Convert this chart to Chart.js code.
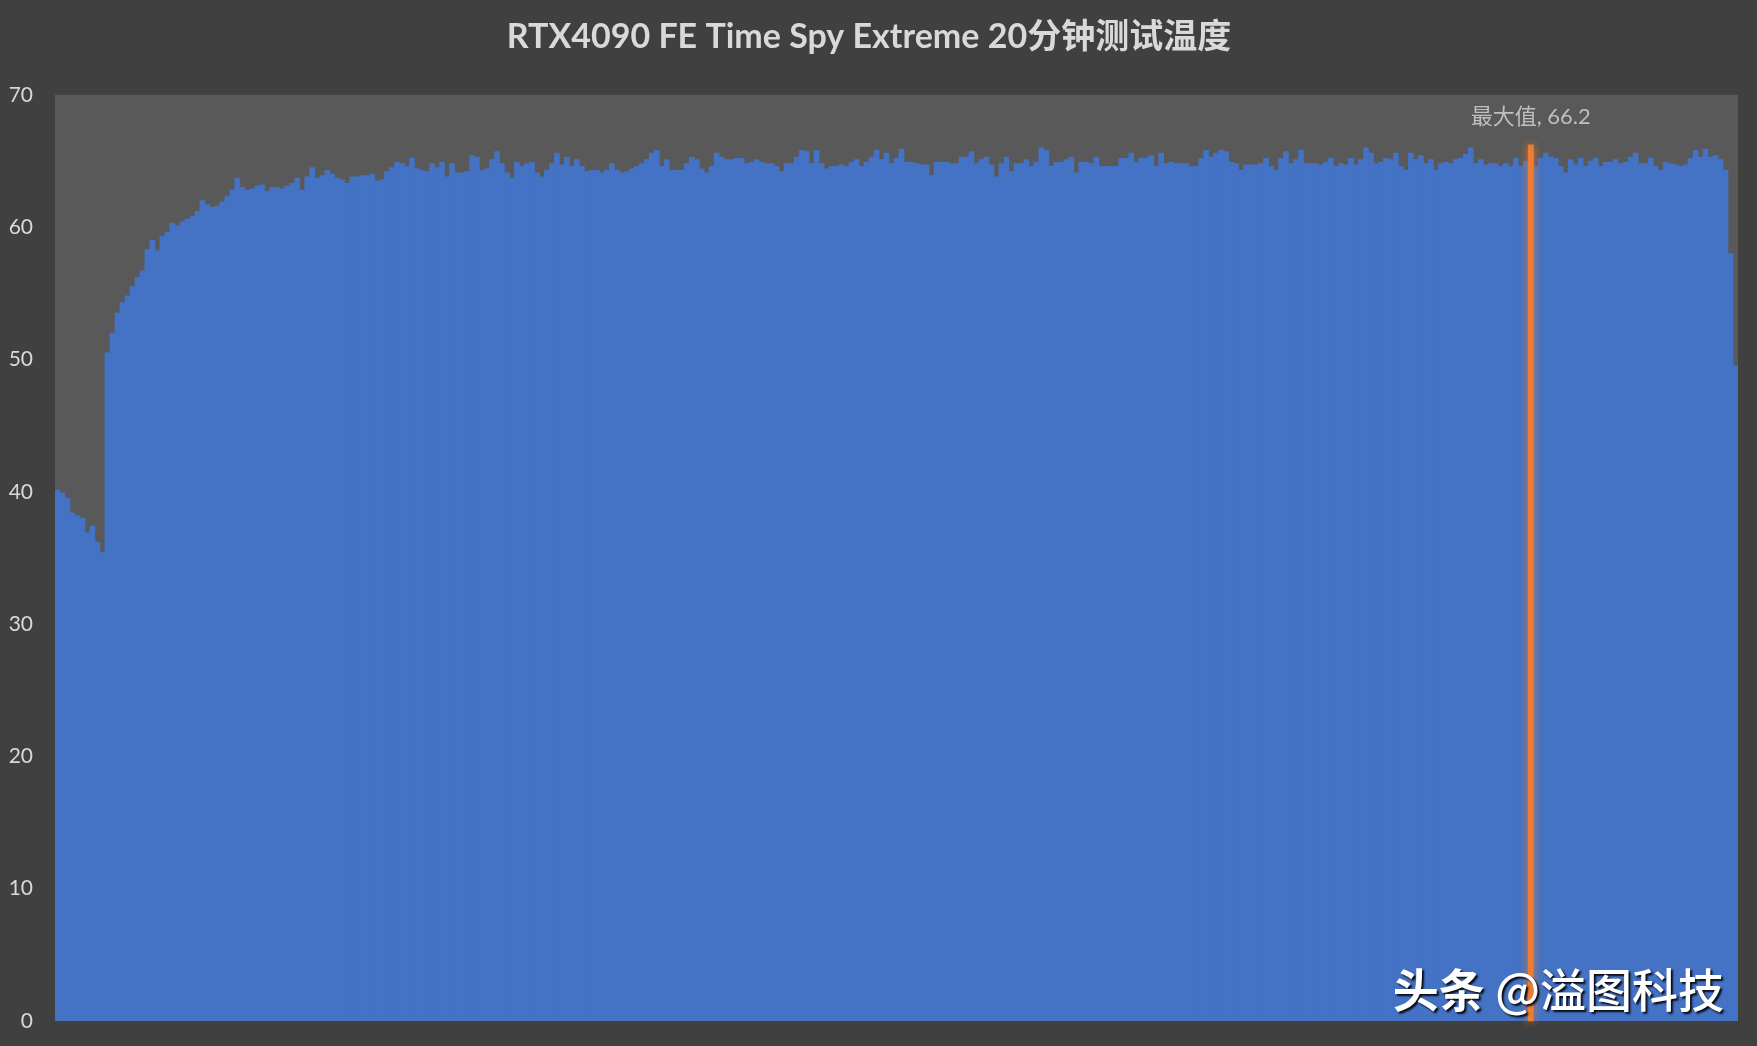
<!DOCTYPE html>
<html>
<head>
<meta charset="utf-8">
<script src="https://cdn.jsdelivr.net/npm/chart.js@4"></script>
<style>
  html, body { margin: 0; padding: 0; background: #404040; }
  #wrap { width: 1757px; height: 1046px; position: relative; }
</style>
</head>
<body>
<div id="wrap"><canvas id="c"></canvas></div>
<script>
// ---- Data (GPU temperature, °C) ----
const chartTitle = 'RTX4090 FE Time Spy Extreme 20分钟测试温度';
const maxLabelPrefix = '最大值';
const watermarkBold = '头条';
const watermarkRest = '@溢图科技';
const yTicks = [0, 10, 20, 30, 40, 50, 60, 70];

const tempsWarmup = [
  40.1, 39.9, 39.5, 38.4, 38.2, 38.0, 36.9, 37.4, 36.2, 35.4,
  50.5, 52.0, 53.5, 54.3, 54.8, 55.5, 56.2, 56.7, 58.3, 59.0,
  58.2, 59.3, 59.6, 60.3, 60.1, 60.4, 60.6, 60.8, 61.2, 62.0,
  61.7, 61.5, 61.6, 61.9, 62.3, 62.8, 63.7, 63.0, 62.8, 62.9,
  63.1, 63.2, 62.7, 63.0, 63.0, 62.9, 63.1, 63.3, 63.7, 62.8,
  63.8, 64.5, 63.7, 63.9, 64.3, 64.0, 63.7, 63.6, 63.3, 63.8,
  63.8, 63.9, 63.9, 64.0, 63.5, 63.6, 64.2, 64.5, 64.9, 64.8
];
const tempsSteady = [
  64.6, 65.2, 64.4, 64.3, 64.2, 64.8, 64.5, 64.9, 63.8, 64.8,
  64.1, 64.1, 64.2, 65.4, 65.3, 64.3, 64.4, 65.1, 65.7, 64.8,
  64.1, 63.7, 64.9, 64.6, 64.8, 64.9, 64.1, 63.8, 64.3, 64.8,
  65.6, 64.7, 65.3, 64.6, 65.1, 64.6, 64.2, 64.3, 64.3, 64.1,
  64.3, 64.8, 64.3, 64.1, 64.2, 64.4, 64.6, 64.8, 65.1, 65.6,
  65.8, 64.6, 65.1, 64.3, 64.3, 64.3, 64.8, 65.3, 65.1, 64.4,
  64.1, 64.6, 65.6, 65.3, 65.1, 65.1, 65.2, 65.2, 64.8, 64.9,
  65.1, 64.9, 64.8, 64.8, 64.6, 64.2, 64.8, 64.8, 65.3, 65.8,
  65.7, 64.8, 65.8, 64.8, 64.4, 64.6, 64.6, 64.7, 64.6, 64.9,
  65.1, 64.6, 64.9, 65.3, 65.8, 65.1, 65.6, 64.8, 65.2, 65.9,
  64.9, 64.9, 64.8, 64.7, 64.7, 63.9, 64.9, 64.9, 64.9, 64.8,
  64.8, 65.3, 65.3, 65.7, 64.8, 65.1, 65.3, 64.7, 63.8, 64.8,
  65.3, 64.2, 64.8, 64.8, 65.1, 64.6, 64.9, 66.0, 65.8, 64.6,
  64.9, 64.9, 65.1, 65.3, 64.1, 64.9, 64.9, 64.8, 65.3, 64.6,
  64.6, 64.6, 64.6, 65.2, 65.2, 65.6, 64.9, 65.2, 65.2, 65.4,
  64.6, 65.6, 64.8, 64.9, 64.8, 64.8, 64.8, 64.6, 64.6, 65.2,
  65.8, 65.3, 65.6, 65.8, 65.7, 64.9, 64.8, 64.3, 64.7, 64.7,
  64.7, 64.8, 65.2, 64.6, 64.3, 65.2, 65.7, 64.8, 65.1, 65.8,
  64.8, 64.8, 64.8, 64.7, 64.9, 65.2, 64.6, 64.8, 64.7, 65.2,
  64.7, 65.1, 66.0, 65.6, 64.8, 64.9, 65.2, 65.1, 65.6, 64.6,
  64.3, 65.6, 65.1, 65.4, 64.8, 65.1, 64.3, 64.8, 64.9, 64.8,
  65.1, 65.2, 65.5, 66.0, 64.8, 65.1, 64.7, 64.8, 64.8, 64.6,
  64.8, 64.6, 65.2, 64.6, 65.0, 66.2, 64.6, 65.2, 65.6, 65.3,
  65.2, 64.6, 64.1, 65.1, 64.7, 65.2, 64.6, 65.0, 65.2, 64.6,
  64.9, 64.9, 65.1, 64.8, 64.9, 65.3, 65.6, 64.8, 64.8, 65.2,
  64.6, 64.3, 64.9, 64.8, 64.7, 64.6, 64.7, 65.2, 65.8, 65.3,
  65.9, 65.3, 65.4, 65.1, 64.3
];
const tempsCooldown = [58.0, 49.5];

const temps = tempsWarmup.concat(tempsSteady, tempsCooldown);
const samples = temps.map((_, i) => String(i + 1));

const maxValue = Math.max(...temps);
const maxIndex = temps.indexOf(maxValue);

const BLUE = '#4472C4';
const ORANGE = '#ED7D31';
const barColors = temps.map((v, i) => i === maxIndex ? ORANGE : BLUE);

const bgPlugin = {
  id: 'bg',
  beforeDraw(chart) {
    const { ctx, chartArea: a } = chart;
    ctx.save();
    ctx.fillStyle = '#404040';
    ctx.fillRect(0, 0, chart.width, chart.height);
    ctx.fillStyle = '#595959';
    ctx.fillRect(a.left, a.top, a.right - a.left, a.bottom - a.top);
    ctx.restore();
  }
};

const maxPlugin = {
  id: 'maxMark',
  afterDatasetsDraw(chart) {
    const { ctx } = chart;
    const el = chart.getDatasetMeta(0).data[maxIndex];
    if (!el) return;
    ctx.save();
    ctx.shadowColor = 'rgba(237,125,49,0.85)';
    ctx.shadowBlur = 8;
    el.draw(ctx);
    ctx.restore();
    ctx.save();
    ctx.font = '22px Lato, "Noto Sans CJK SC", sans-serif';
    ctx.fillStyle = '#bfbfbf';
    ctx.textAlign = 'center';
    ctx.textBaseline = 'middle';
    ctx.fillText(maxLabelPrefix + ', ' + maxValue.toFixed(1), el.x, el.y - 28);
    ctx.restore();
  }
};

const watermarkPlugin = {
  id: 'wm',
  afterDraw(chart) {
    const { ctx, chartArea: a } = chart;
    ctx.save();
    ctx.textBaseline = 'alphabetic';
    ctx.textAlign = 'left';
    ctx.shadowColor = 'rgba(0,0,0,0.9)';
    ctx.shadowOffsetX = 2;
    ctx.shadowOffsetY = 2;
    ctx.shadowBlur = 2;
    ctx.fillStyle = '#ffffff';
    const base = a.bottom - 14;
    ctx.font = 'bold 46px "Noto Sans CJK SC", sans-serif';
    const w1 = ctx.measureText(watermarkBold + ' ').width;
    ctx.font = '500 46px "Noto Sans CJK SC", sans-serif';
    const w2 = ctx.measureText(watermarkRest).width;
    const x0 = a.right - 14 - (w1 + w2);
    ctx.font = 'bold 46px "Noto Sans CJK SC", sans-serif';
    ctx.fillText(watermarkBold, x0, base);
    ctx.font = '500 46px "Noto Sans CJK SC", sans-serif';
    ctx.fillText(watermarkRest, x0 + w1, base);
    ctx.restore();
  }
};

new Chart(document.getElementById('c'), {
  type: 'bar',
  data: {
    labels: samples,
    datasets: [{
      data: temps,
      backgroundColor: barColors,
      borderWidth: 0,
      barPercentage: 1.0,
      categoryPercentage: 1.0
    }]
  },
  options: {
    responsive: true,
    maintainAspectRatio: false,
    animation: false,
    layout: { padding: { left: 0, right: 19, top: 0, bottom: 25 } },
    plugins: {
      legend: { display: false },
      tooltip: { enabled: false },
      title: {
        display: true,
        text: chartTitle,
        color: '#d9d9d9',
        font: { family: 'Lato, "Noto Sans CJK SC", sans-serif', size: 34, weight: 'bold', lineHeight: 1.2 },
        padding: { top: 17, bottom: 37 }
      }
    },
    scales: {
      x: { display: false, grid: { display: false } },
      y: {
        min: 0,
        max: 70,
        afterBuildTicks(scale) { scale.ticks = yTicks.map(v => ({ value: v })); },
        afterFit(scale) { scale.width = 55; scale.paddingTop = 0; scale.paddingBottom = 0; },
        grid: { display: false, drawTicks: false },
        border: { display: false },
        ticks: {
          color: '#d9d9d9',
          padding: 22,
          font: { family: 'Lato, "Noto Sans CJK SC", sans-serif', size: 21 }
        }
      }
    }
  },
  plugins: [bgPlugin, maxPlugin, watermarkPlugin]
});
</script>
</body>
</html>
